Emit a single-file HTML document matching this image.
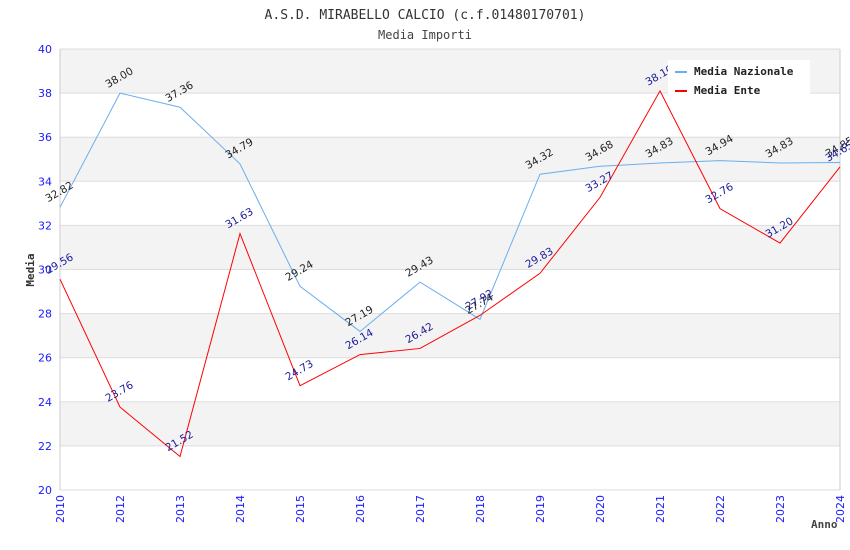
<!DOCTYPE html>
<html><head><meta charset="utf-8"><style>
body{margin:0;background:#fff}
svg{display:block;font-family:"DejaVu Sans Mono","Liberation Mono",monospace}
.s{font-family:"DejaVu Sans","Liberation Sans",sans-serif}
</style></head><body>
<svg id="chart" width="850" height="550" viewBox="0 0 850 550">
<text x="425" y="19" text-anchor="middle" font-size="13" fill="#333">A.S.D. MIRABELLO CALCIO (c.f.01480170701)</text>
<text x="425" y="39" text-anchor="middle" font-size="12" fill="#444">Media Importi</text>
<g id="bands"></g><g id="grid"></g><g id="axes"></g><g id="series"></g><g id="labels"></g>
<text transform="translate(34,270) rotate(-90)" text-anchor="middle" font-size="11" font-weight="bold" fill="#333">Media</text>
<text x="811" y="528" font-size="11" font-weight="bold" fill="#444">Anno</text>
<g>
<rect x="668" y="60" width="142" height="36" fill="#fff"/>
<line x1="675" y1="72" x2="687" y2="72" stroke="#6aaef0" stroke-width="2"/>
<text x="694" y="75" font-size="11" font-weight="bold" fill="#222">Media Nazionale</text>
<line x1="675" y1="91" x2="687" y2="91" stroke="#f00" stroke-width="2"/>
<text x="694" y="94" font-size="11" font-weight="bold" fill="#222">Media Ente</text>
</g>
</svg>
<script>
const years=["2010","2012","2013","2014","2015","2016","2017","2018","2019","2020","2021","2022","2023","2024"];
const nazionale=[32.82,38.00,37.36,34.79,29.24,27.19,29.43,27.74,34.32,34.68,34.83,34.94,34.83,34.85];
const ente=[29.56,23.76,21.52,31.63,24.73,26.14,26.42,27.92,29.83,33.27,38.10,32.76,31.20,34.65];
const yTicks=[20,22,24,26,28,30,32,34,36,38,40];
const NS="http://www.w3.org/2000/svg";
const L=60,R=840,T=49,B=490,yMin=20,yMax=40;
const x=i=>L+i*(R-L)/(years.length-1);
const y=v=>B-(v-yMin)*(B-T)/(yMax-yMin);
function mk(tag,attrs,parent,txt){const e=document.createElementNS(NS,tag);for(const k in attrs)e.setAttribute(k,attrs[k]);if(txt!==undefined)e.textContent=txt;document.getElementById(parent).appendChild(e);return e;}
for(let i=0;i<yTicks.length-1;i++){if(i%2===1){const r=mk('rect',{x:L,y:y(yTicks[i+1]),width:R-L,height:y(yTicks[i])-y(yTicks[i+1]),fill:'#f3f3f3'},'bands');

}}
yTicks.forEach(t=>{const g=mk('line',{x1:L,x2:R,y1:y(t),y2:y(t),stroke:'#ddd'},'grid');


const tl=mk('text',{x:L-8,y:y(t)+4,'text-anchor':'end','font-size':11,fill:'#1a1aff',class:'s'},'axes',t);

});
mk('line',{x1:L,x2:L,y1:T,y2:B,stroke:'#ccc'},'axes');
mk('line',{x1:R,x2:R,y1:T,y2:B,stroke:'#ccc'},'axes');
years.forEach((yr,i)=>{const t=mk('text',{transform:`translate(${x(i)+4},${B+5}) rotate(-90)`,'text-anchor':'end','font-size':11,fill:'#1a1aff',class:'s'},'axes',yr);

});
function series(vals,color,lblColor,name){
const p=mk('polyline',{points:vals.map((v,i)=>x(i)+','+y(v)).join(' '),fill:'none',stroke:color,'stroke-width':1},'series');


vals.forEach((v,i)=>{const t=mk('text',{transform:`translate(${x(i)-12},${y(v)-5}) rotate(-30)`,'font-size':10.5,fill:lblColor,class:'s'},'labels',v.toFixed(2));

});}
series(nazionale,'#6aaef0','#222','nazionale');
series(ente,'#f00','#1a1a9a','ente');
</script>
</body></html>
